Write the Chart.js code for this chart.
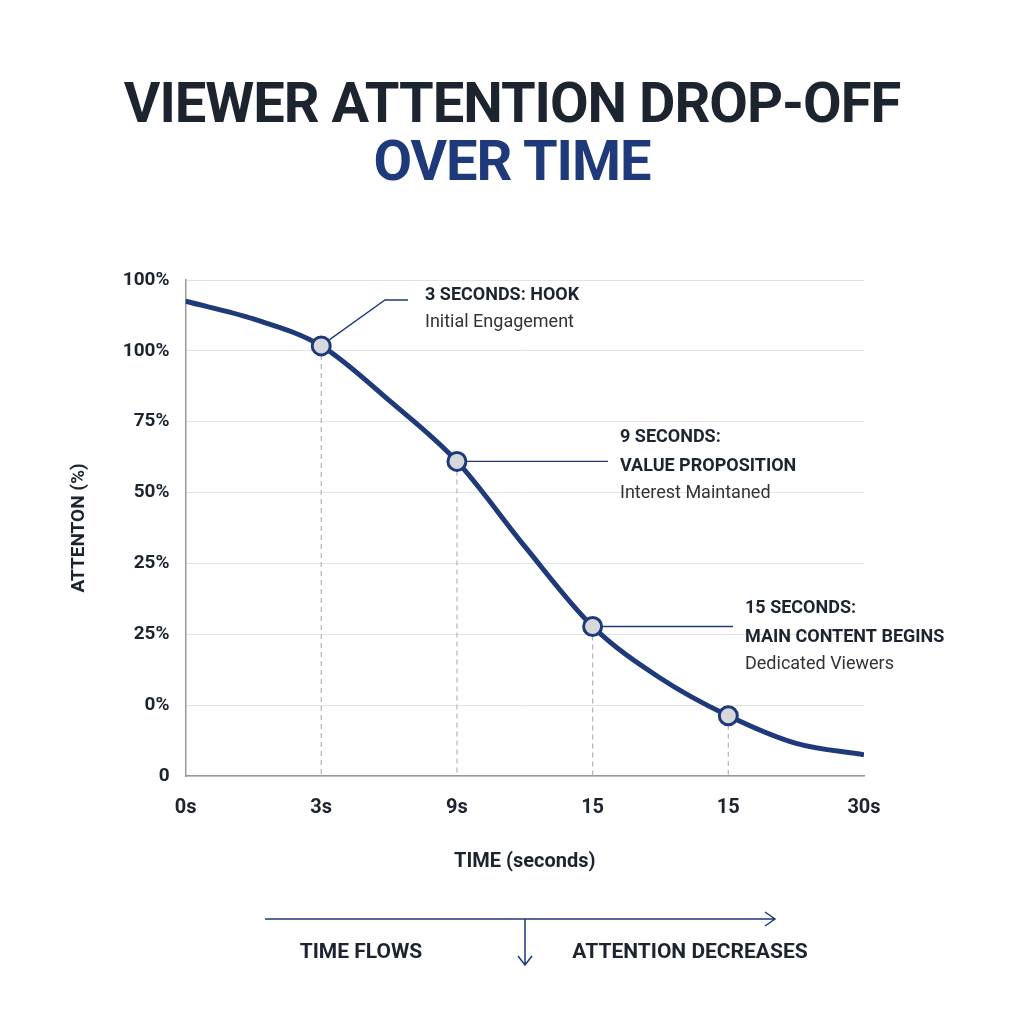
<!DOCTYPE html>
<html lang="en">
<head>
<meta charset="UTF-8">
<title>Viewer Attention Drop-off</title>
<script src="https://cdn.jsdelivr.net/npm/chart.js"></script>
<style>
  body { margin: 0; background: #fff; font-family: Roboto, Arial, sans-serif; }
  #wrap { position: relative; width: 1024px; height: 1024px; }
  h1 { position: absolute; top: 74px; left: 0; width: 1024px; margin: 0; text-align: center;
       font-size: 56px; font-weight: 700; line-height: 58px; color: #1c2430; letter-spacing: -1px; }
  h1 span { color: #1f3a7a; }
  #chartBox { position: absolute; left: 0; top: 0; width: 1024px; height: 1024px; }
</style>
</head>
<body>
<div id="wrap">
  <h1>VIEWER ATTENTION DROP-OFF<br><span>OVER TIME</span></h1>
  <div id="chartBox"><canvas id="c"></canvas></div>
</div>
<script>
// tick labels as printed in the picture
const xTickLabels = ['0s', '3s', '9s', '15', '15', '30s'];
const yTickLabels = ['0', '0%', '25%', '25%', '50%', '75%', '100%', '100%'];

// curve (x = tick index, y = tick index)
const curveX = [0, 0.5, 1, 1.5, 2, 2.5, 3, 3.5, 4, 4.5, 5];
const curveY = [6.7, 6.45, 6.07, 5.3, 4.44, 3.24, 2.11, 1.38, 0.85, 0.46, 0.3];

// milestones
const markX = [1, 2, 3, 4];
const markY = [6.07, 4.44, 2.11, 0.85];
const notes = [
  { at: 0, title: ['3 SECONDS: HOOK'], sub: 'Initial Engagement' },
  { at: 1, title: ['9 SECONDS:', 'VALUE PROPOSITION'], sub: 'Interest Maintaned' },
  { at: 2, title: ['15 SECONDS:', 'MAIN CONTENT BEGINS'], sub: 'Dedicated Viewers' }
];

const navy = '#1f3a7a';

const extras = {
  id: 'extras',
  beforeDatasetsDraw(chart) {
    const { ctx, scales: { x, y } } = chart;
    ctx.save();
    ctx.strokeStyle = '#b5b5b5';
    ctx.lineWidth = 1.2;
    ctx.setLineDash([5, 4]);
    markX.forEach((v, i) => {
      ctx.beginPath();
      ctx.moveTo(x.getPixelForValue(v), y.getPixelForValue(markY[i]));
      ctx.lineTo(x.getPixelForValue(v), y.getPixelForValue(0));
      ctx.stroke();
    });
    ctx.restore();
  },
  afterDatasetsDraw(chart) {
    const { ctx, scales: { x, y } } = chart;
    ctx.save();
    const tx = [415, 620, 745];
    const ty = [295, 437, 608];
    notes.forEach((n, k) => {
      const px = x.getPixelForValue(markX[n.at]);
      const py = y.getPixelForValue(markY[n.at]);
      ctx.strokeStyle = navy;
      ctx.lineWidth = 1.3;
      ctx.beginPath();
      if (k === 0) {
        ctx.moveTo(px + 8, py - 6);
        ctx.lineTo(385, 300);
        ctx.lineTo(408, 300);
      } else {
        ctx.moveTo(px + 10, py);
        ctx.lineTo(tx[k] - 12, py);
      }
      ctx.stroke();
      ctx.fillStyle = '#1c2430';
      ctx.textAlign = 'left';
      ctx.textBaseline = 'middle';
      ctx.font = 'bold 18px Roboto, Arial';
      n.title.forEach((t, j) => ctx.fillText(t, tx[k] + (k === 0 ? 10 : 0), ty[k] + j * 29));
      ctx.font = '18px Roboto, Arial';
      ctx.fillStyle = '#333';
      ctx.fillText(n.sub, tx[k] + (k === 0 ? 10 : 0), ty[k] + n.title.length * 29 - 2);
    });

    // bottom flow arrows
    ctx.strokeStyle = navy;
    ctx.lineWidth = 1.5;
    ctx.beginPath();
    ctx.moveTo(265, 919); ctx.lineTo(775, 919);
    ctx.moveTo(765, 912); ctx.lineTo(775, 919); ctx.lineTo(765, 926);
    ctx.moveTo(525, 919); ctx.lineTo(525, 965);
    ctx.moveTo(518, 956); ctx.lineTo(525, 965); ctx.lineTo(532, 956);
    ctx.stroke();
    ctx.fillStyle = '#1c2430';
    ctx.font = 'bold 21px Roboto, Arial';
    ctx.textAlign = 'center';
    ctx.fillText('TIME FLOWS', 361, 953);
    ctx.fillText('ATTENTION DECREASES', 690, 953);
    ctx.restore();
  }
};

new Chart(document.getElementById('c'), {
  type: 'scatter',
  data: {
    datasets: [
      {
        data: curveX.map((v, i) => ({ x: v, y: curveY[i] })),
        showLine: true,
        borderColor: navy,
        borderWidth: 5,
        pointRadius: 0,
        cubicInterpolationMode: 'monotone',
        order: 2
      },
      {
        data: markX.map((v, i) => ({ x: v, y: markY[i] })),
        showLine: false,
        pointRadius: 9,
        pointBackgroundColor: '#d6d8dc',
        pointBorderColor: navy,
        pointBorderWidth: 3,
        order: 1
      }
    ]
  },
  options: {
    responsive: true,
    maintainAspectRatio: false,
    animation: false,
    layout: { padding: { top: 280, right: 160, bottom: 146, left: 64 } },
    plugins: { legend: { display: false }, tooltip: { enabled: false } },
    scales: {
      x: {
        type: 'linear', min: 0, max: 5,
        grid: { display: false },
        border: { color: '#999', width: 1.5 },
        ticks: {
          stepSize: 1, padding: 12,
          font: { size: 20, weight: 'bold', family: 'Roboto' }, color: '#1c2430',
          callback: v => xTickLabels[v]
        },
        title: {
          display: true, text: 'TIME (seconds)', padding: { top: 18 },
          font: { size: 20, weight: 'bold', family: 'Roboto' }, color: '#1c2430'
        }
      },
      y: {
        type: 'linear', min: 0, max: 7,
        grid: { color: '#e2e2e2', drawTicks: false },
        border: { color: '#999', width: 1.5 },
        ticks: {
          stepSize: 1, padding: 16,
          font: { size: 19, weight: 'bold', family: 'Roboto' }, color: '#1c2430',
          callback: v => yTickLabels[v]
        },
        title: {
          display: true, text: 'ATTENTON (%)', padding: { bottom: 16 },
          font: { size: 19, weight: 'bold', family: 'Roboto' }, color: '#1c2430'
        }
      }
    }
  },
  plugins: [extras]
});
</script>
</body>
</html>
